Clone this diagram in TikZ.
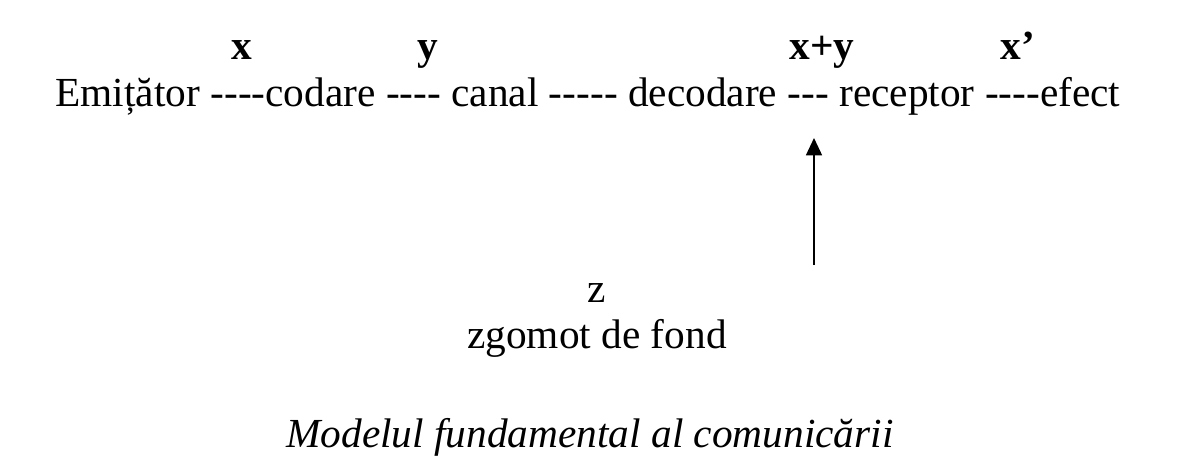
\documentclass[tikz,border=0pt]{standalone}
\usepackage{fontspec}
\setmainfont{Liberation Serif}[Ligatures=TeXOff]
\usetikzlibrary{arrows.meta}
\tikzset{every picture/.style={line width=0.75pt}}
\tikzset{
  linetext/.style={anchor=base,inner sep=0.75pt,font=\fontsize{31}{37}\selectfont},
  vartext/.style={anchor=base,inner sep=0.75pt,font=\fontsize{31}{37}\selectfont\bfseries},
}
\begin{document}
\begin{tikzpicture}[x=0.75pt,y=0.75pt,yscale=-1,xscale=1]
\useasboundingbox (0,0) rectangle (1177,471);

% Text Node
\node (chain) [linetext,anchor=base west] at (54,106) {Emițător ----codare ---- canal ----- decodare --- receptor ----efect};
% Text Node
\node (varx) [vartext] at (242,59) {x};
% Text Node
\node (vary) [vartext] at (428,59) {y};
% Text Node
\node (varxy) [vartext] at (822,59) {x+y};
% Text Node
\node (varxp) [vartext] at (1018,59) {x’};
% Text Node
\node (varz) [linetext] at (597,302) {z};
% Text Node
\node (noise) [linetext] at (597,348) {zgomot de fond};
% Text Node
\node (caption) [linetext,font=\fontsize{31}{37}\selectfont\itshape] at (590,447) {Modelul fundamental al comunicării};

%Straight Lines
\coordinate (noisetop) at (814,265);
\coordinate (chainlow) at (814,138);
\draw [line width=1.2pt,-{Triangle[length=13pt,width=12pt]}] (noisetop) -- (chainlow);

\end{tikzpicture}
\end{document}
